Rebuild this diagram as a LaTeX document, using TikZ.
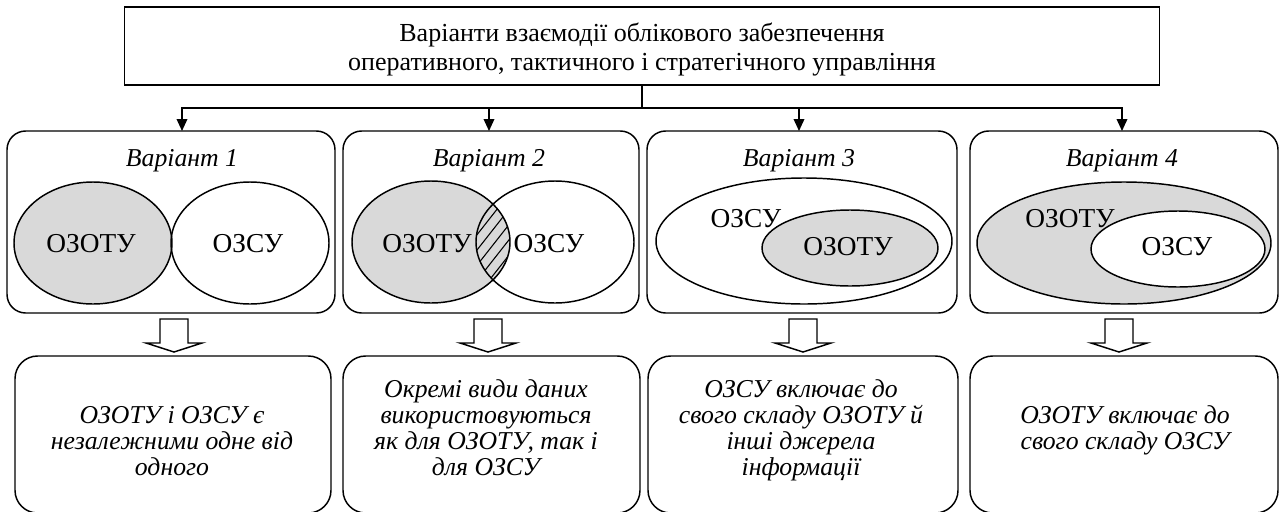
\documentclass[tikz,border=0pt]{standalone}
\usepackage{fontspec}
\setmainfont{Liberation Serif}
\usetikzlibrary{arrows.meta}
\definecolor{venngray}{HTML}{D9D9D9}
\begin{document}
\begin{tikzpicture}[x=0.75pt, y=-0.75pt,
  every node/.style={inner sep=0pt, outer sep=0pt},
  outline/.style={draw=black, line width=1.1pt},
  titlebox/.style={outline, rectangle, minimum width=776pt, minimum height=58.5pt},
  variantbox/.style={outline, rounded corners=14pt, minimum height=136.5pt},
  resultbox/.style={outline, rounded corners=17pt, minimum height=117.75pt},
  headline/.style={align=center, anchor=base, font=\fontsize{19.5}{21.75}\selectfont},
  caption/.style={anchor=base, font=\fontsize{19.3}{20}\selectfont\itshape},
  note/.style={align=center, anchor=base, font=\fontsize{19.3}{19.5}\selectfont\itshape},
  setlabel/.style={anchor=base, font=\fontsize{20.5}{21}\selectfont},
  wire/.style={line width=1.1pt, line cap=rect},
  feed/.style={line width=1.1pt, -{Triangle[length=9pt, width=8pt]}},
  hatch/.style={line width=0.8pt},
  hollow down/.pic={
    \draw[line width=1.1pt, fill=white, line join=miter]
      (-14,0) -- (14,0) -- (14,24) -- (28,24) -- (0,33) -- (-28,24) -- (-14,24) -- cycle;
  },
]
\clip (0,0) rectangle (1279,511);

% heading box and distribution bus
\node[titlebox] (head) at (642,46) {};
\node[headline] (headtext) at (642,70)
  {Варіанти взаємодії облікового забезпечення\\оперативного, тактичного і стратегічного управління};

\coordinate (bus) at (642,108);
\coordinate (bus1) at (182,108);
\coordinate (bus2) at (489,108);
\coordinate (bus3) at (799,108);
\coordinate (bus4) at (1122,108);

% variant frames
\node[variantbox, minimum width=246pt] (v1) at (171,222) {};
\node[variantbox, minimum width=222pt] (v2) at (491,222) {};
\node[variantbox, minimum width=232.5pt] (v3) at (802,222) {};
\node[variantbox, minimum width=231pt] (v4) at (1124,222) {};

\draw[wire] (head.south) -- (bus);
\draw[wire] (bus1) -- (bus4);
\draw[feed] (bus1) -- (bus1 |- v1.north);
\draw[feed] (bus2) -- (bus2 |- v2.north);
\draw[feed] (bus3) -- (bus3 |- v3.north);
\draw[feed] (bus4) -- (bus4 |- v4.north);

\node[caption] (c1) at (182,166) {Варіант 1};
\node[caption] (c2) at (489,166) {Варіант 2};
\node[caption] (c3) at (799,166) {Варіант 3};
\node[caption] (c4) at (1122,166) {Варіант 4};

% variant 1: separate sets
\draw[outline, fill=venngray] (93,243) ellipse [x radius=79, y radius=61];
\draw[outline] (250,243) ellipse [x radius=79, y radius=61];
\node[setlabel] (s1a) at (91,252) {ОЗОТУ};
\node[setlabel] (s1b) at (248,252) {ОЗСУ};

% variant 2: overlapping sets with hatched common part
\fill[venngray] (431,242) ellipse [x radius=79, y radius=61];
\begin{scope}
  \clip (431,242) ellipse [x radius=79, y radius=61];
  \clip (555,242) ellipse [x radius=79, y radius=61];
  \foreach \x in {350,362,...,560}
    \draw[hatch] (\x,320) -- ++(110,-140);
\end{scope}
\draw[outline] (431,242) ellipse [x radius=79, y radius=61];
\draw[outline] (555,242) ellipse [x radius=79, y radius=61];
\node[setlabel] (s2a) at (427,252) {ОЗОТУ};
\node[setlabel] (s2b) at (549,252) {ОЗСУ};

% variant 3: ОЗОТУ inside ОЗСУ
\draw[outline, fill=white] (804,241) ellipse [x radius=148, y radius=63];
\node[setlabel] (s3a) at (746,227) {ОЗСУ};
\draw[outline, fill=venngray] (850,248) ellipse [x radius=88, y radius=38];
\node[setlabel] (s3b) at (848,255) {ОЗОТУ};

% variant 4: ОЗСУ inside ОЗОТУ
\draw[outline, fill=venngray] (1124,243) ellipse [x radius=147, y radius=61];
\node[setlabel] (s4a) at (1070,227) {ОЗОТУ};
\draw[outline, fill=white] (1178,249) ellipse [x radius=87, y radius=38];
\node[setlabel] (s4b) at (1177,255) {ОЗСУ};

% hollow arrows towards the conclusions
\pic at (174,319) {hollow down};
\pic at (488,319) {hollow down};
\pic at (803,319) {hollow down};
\pic at (1119,319) {hollow down};

% conclusion frames
\node[resultbox, minimum width=237pt] (b1) at (173,434.5) {};
\node[resultbox, minimum width=222.75pt] (b2) at (491.5,434.5) {};
\node[resultbox, minimum width=232.5pt] (b3) at (803,434.5) {};
\node[resultbox, minimum width=231pt] (b4) at (1124,434.5) {};

\node[note] (n1) at (172,475) {ОЗОТУ і ОЗСУ є\\незалежними одне від\\одного};
\node[note] (n2) at (486,475) {Окремі види даних\\використовуються\\як для ОЗОТУ, так і\\для ОЗСУ};
\node[note] (n3) at (801,475) {ОЗСУ включає до\\свого складу ОЗОТУ й\\інші джерела\\інформації};
\node[note] (n4) at (1125,449) {ОЗОТУ включає до\\свого складу ОЗСУ};
\end{tikzpicture}
\end{document}
